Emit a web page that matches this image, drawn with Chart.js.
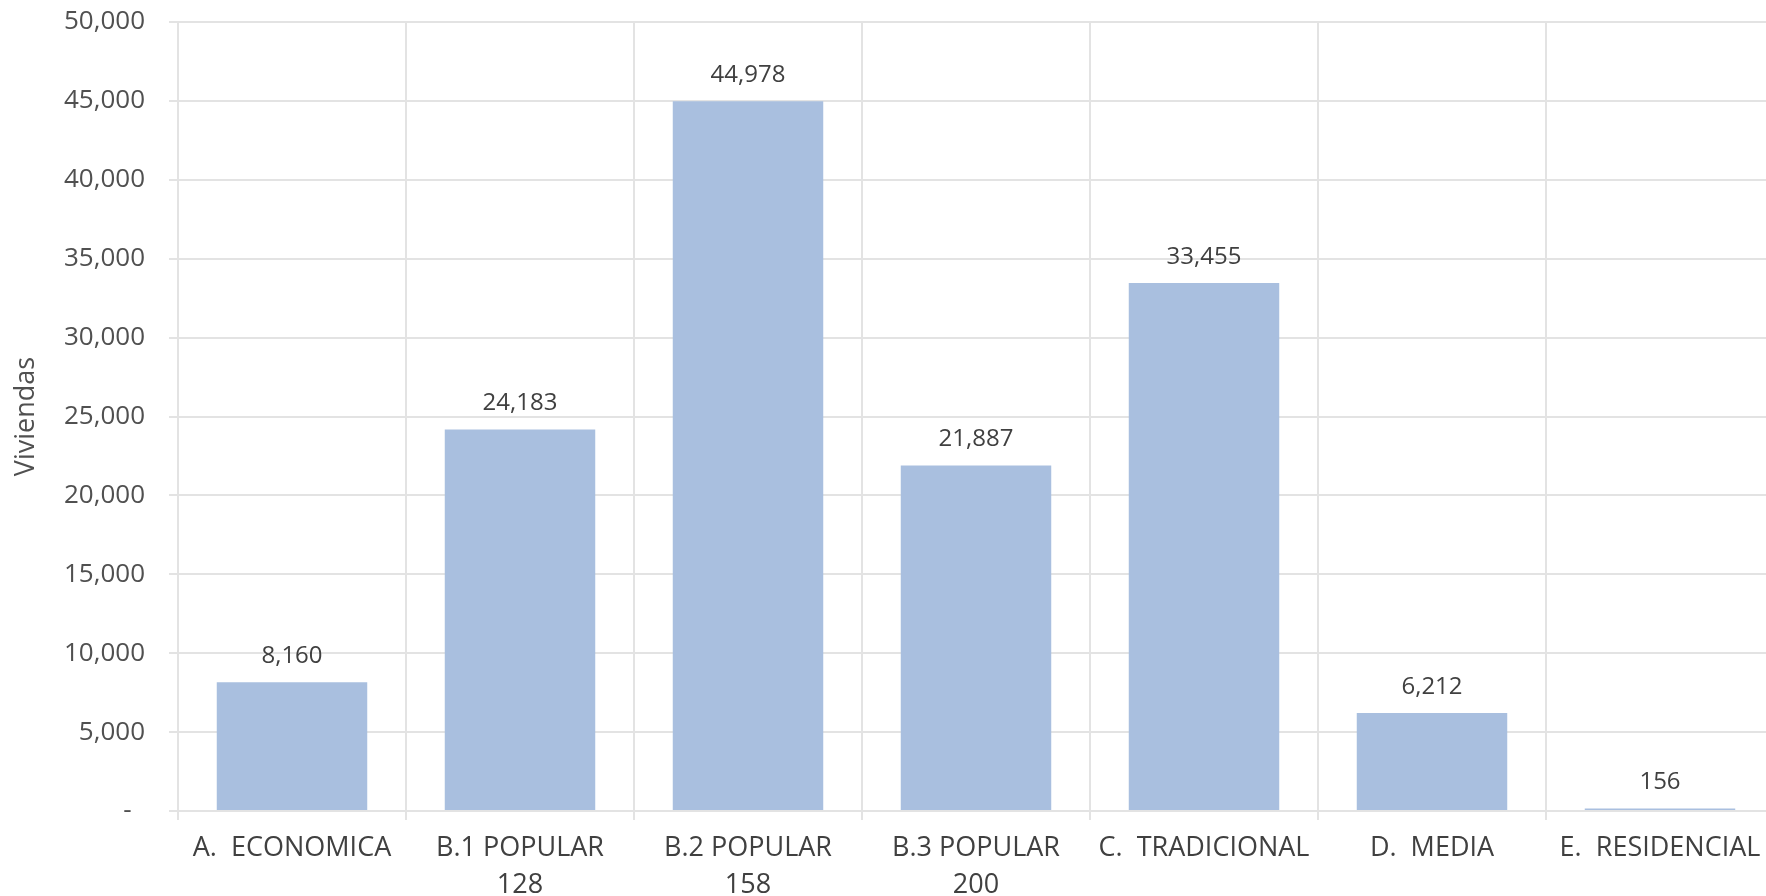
<!DOCTYPE html>
<html>
<head>
<meta charset="utf-8">
<title>Viviendas por segmento</title>
<script src="https://cdn.jsdelivr.net/npm/chart.js@4/dist/chart.umd.min.js"></script>
<style>
  html, body { margin: 0; padding: 0; background: #fff; overflow: hidden; }
  #wrap { position: relative; width: 1776px; height: 896px; }
</style>
</head>
<body>
<div id="wrap"><canvas id="bar-chart"></canvas></div>
<script>
'use strict';

/*===== Datos =====*/
const segmentos = [
  'A.  ECONOMICA',
  ['B.1 POPULAR', '128'],
  ['B.2 POPULAR', '158'],
  ['B.3 POPULAR', '200'],
  'C.  TRADICIONAL',
  'D.  MEDIA',
  'E.  RESIDENCIAL'
];
const viviendas = [8160, 24183, 44978, 21887, 33455, 6212, 156];
const yMax = 50000;
const yStep = 5000;

const fmt = v => v === 0 ? '-  ' : v.toLocaleString('en-US');

/*===== Etiquetas de valor sobre cada barra =====*/
const valueLabels = {
  id: 'valueLabels',
  afterDatasetsDraw(chart) {
    const c = chart.ctx;
    const meta = chart.getDatasetMeta(0);
    c.save();
    c.font = '24px "Open Sans"';
    c.fillStyle = '#404040';
    c.textAlign = 'center';
    c.textBaseline = 'middle';
    meta.data.forEach((bar, i) => {
      c.fillText(fmt(viviendas[i]), bar.x, bar.y - 26);
    });
    c.restore();
  }
};

const ctx = document.getElementById('bar-chart').getContext('2d');

const myBarChart = new Chart(ctx, {
  type: 'bar',
  data: {
    labels: segmentos,
    datasets: [{
      label: 'Viviendas',
      data: viviendas,
      backgroundColor: 'rgb(169, 191, 223)',
      borderWidth: 0,
      categoryPercentage: 1,
      barPercentage: 0.66
    }]
  },
  options: {
    responsive: true,
    maintainAspectRatio: false,
    animation: false,
    layout: { padding: { top: 22, right: 2, bottom: 0, left: 0 } },
    plugins: {
      legend: { display: false },
      title: { display: false },
      tooltip: { enabled: false }
    },
    scales: {
      x: {
        afterFit: s => { s.height = 85; },
        grid: {
          color: '#e3e3e3',
          lineWidth: 2,
          tickLength: 9,
          offset: true
        },
        border: { display: false },
        ticks: {
          color: '#404040',
          font: { family: 'Open Sans', size: 27, lineHeight: 1.4 },
          padding: 9,
          maxRotation: 0,
          autoSkip: false
        }
      },
      y: {
        min: 0,
        max: yMax,
        afterFit: s => {
          s.width = 178;
          s.paddingTop = 0;
          s.paddingBottom = 0;
        },
        grid: {
          color: '#e3e3e3',
          lineWidth: 2,
          tickLength: 9
        },
        border: { display: false },
        ticks: {
          stepSize: yStep,
          color: '#505050',
          font: { family: 'Open Sans', size: 26 },
          padding: 24,
          callback: v => fmt(v)
        },
        title: {
          display: true,
          text: 'Viviendas',
          color: '#505050',
          font: { family: 'Open Sans', size: 27 },
          padding: { top: 10, bottom: 0 }
        }
      }
    }
  },
  plugins: [valueLabels]
});
</script>
</body>
</html>
